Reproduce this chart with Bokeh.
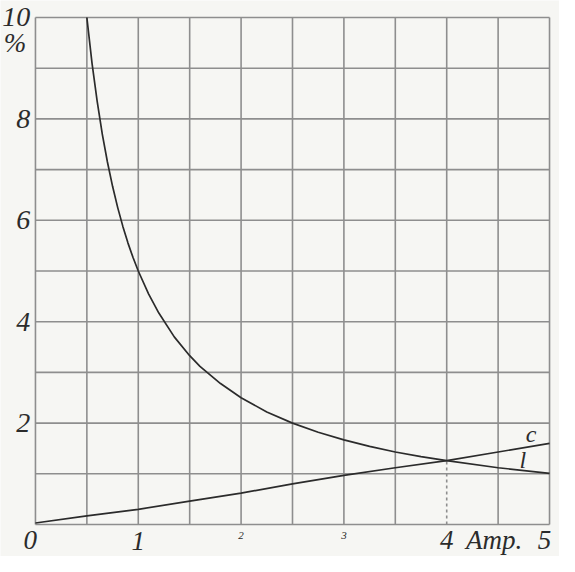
from bokeh.plotting import figure
from bokeh.core.properties import value
from bokeh.embed import file_html
from bokeh.resources import INLINE

# ---- data ----
amp = [0.0, 0.5, 1.0, 1.5, 2.0, 2.5, 3.0, 3.5, 4.0, 4.5, 5.0]
c_vals = [0.03, 0.17, 0.30, 0.46, 0.62, 0.80, 0.97, 1.12, 1.26, 1.43, 1.60]

l_amp = [0.5, 0.55, 0.6, 0.65, 0.7, 0.75, 0.8, 0.85, 0.9, 0.95, 1.0, 1.1, 1.2, 1.35, 1.5,
         1.6, 1.8, 2.0, 2.25, 2.5, 2.75, 3.0, 3.25, 3.5, 3.75, 4.0, 4.5, 5.0]
l_vals = [10.0, 9.1, 8.35, 7.7, 7.15, 6.67, 6.25, 5.88, 5.55, 5.26, 5.0, 4.55, 4.17, 3.7, 3.33,
          3.12, 2.78, 2.5, 2.22, 2.0, 1.82, 1.67, 1.54, 1.43, 1.34, 1.26, 1.12, 1.01]

y_ticks = [2, 4, 6, 8, 10]
x_big_ticks = [-0.05, 1.0, 4.0, 4.95]
x_big_labels = ["0", "1", "4", "5"]
x_small_ticks = [2, 3]
x_small_labels = ["2", "3"]
unit_label = "Amp."
pct_label = "%"
x_grid = [0, 0.5, 1, 1.5, 2, 2.5, 3, 3.5, 4, 4.5, 5]
y_grid = [0, 1, 2, 3, 4, 5, 6, 7, 8, 9, 10]
cross_x = 4.0
cross_y = 1.26

FONT = value("Liberation Serif")
INK = "#2b2b2b"
GRID = "#8e8e8e"

# frame spans the whole canvas; the ranges leave room for the hand-set labels
p = figure(width=559, height=556, x_range=(-0.340, 5.097), y_range=(-0.631, 10.335),
           output_backend="svg", toolbar_location=None,
           min_border_left=0, min_border_right=0, min_border_top=0, min_border_bottom=0,
           background_fill_color="#f6f6f3", border_fill_color="#f6f6f3")
p.outline_line_color = None
p.grid.visible = False
p.axis.visible = False

# grid lines
vx = [x for x in x_grid if x != cross_x]
p.segment(x0=vx, y0=[0] * len(vx), x1=vx, y1=[10] * len(vx), line_color=GRID, line_width=1.6)
p.segment(x0=[cross_x], y0=[cross_y], x1=[cross_x], y1=[10], line_color=GRID, line_width=1.6)
p.segment(x0=[cross_x], y0=[0], x1=[cross_x], y1=[cross_y], line_color=GRID, line_width=1.6,
          line_dash="3 3")
p.segment(x0=[0] * len(y_grid), y0=y_grid, x1=[5] * len(y_grid), y1=y_grid,
          line_color=GRID, line_width=1.6)

# curves
p.line(amp, c_vals, line_color=INK, line_width=1.7)
p.line(l_amp, l_vals, line_color=INK, line_width=1.7)

common = dict(text_font=FONT, text_font_style="italic", text_color=INK, text_baseline="middle")

# y tick labels
p.text(x=[-0.05] * len(y_ticks), y=y_ticks, text=[str(t) for t in y_ticks],
       text_align="right", text_font_size="28px", **common)
p.text(x=[-0.2], y=[9.5], text=[pct_label], text_align="center", text_font_size="27px", **common)

# x tick labels
p.text(x=x_big_ticks, y=[-0.31, -0.33, -0.31, -0.31], text=x_big_labels,
       text_align="center", text_font_size="27px", **common)
p.text(x=x_small_ticks, y=[-0.22] * len(x_small_ticks), text=x_small_labels,
       text_align="center", text_font_size="11px", **common)
p.text(x=[4.46], y=[-0.31], text=[unit_label], text_align="center", text_font_size="27px", **common)

# curve names
p.text(x=[4.82], y=[1.78], text=["c"], text_align="center", text_font_size="24px", **common)
p.text(x=[4.74], y=[1.28], text=["l"], text_align="center", text_font_size="24px", **common)

open("out.html", "w").write(file_html(p, INLINE))
